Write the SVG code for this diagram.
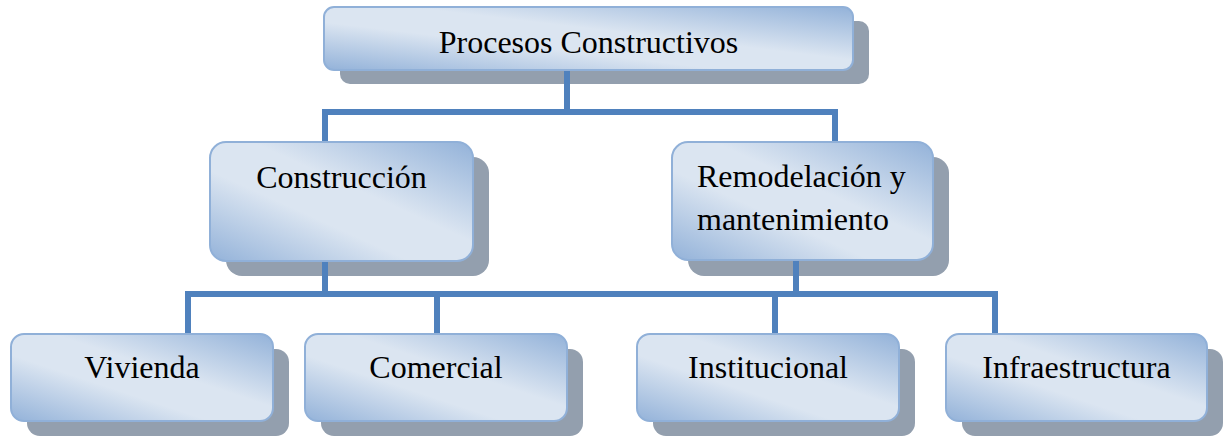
<svg xmlns="http://www.w3.org/2000/svg" width="1228" height="437" viewBox="0 0 1228 437">
<defs>
<linearGradient id="g" x1="1" y1="0" x2="0" y2="1">
<stop offset="0" stop-color="#93b2d9"/>
<stop offset="0.42" stop-color="#dbe5f1"/>
<stop offset="0.62" stop-color="#dbe5f1"/>
<stop offset="1" stop-color="#93b2d9"/>
</linearGradient>
</defs>
<style>
.sh{fill:#939fae}
.bx{fill:url(#g);stroke:#90b0d8;stroke-width:2}
.t{font-family:"Liberation Serif","Times New Roman",serif;font-size:32px;fill:#000}
.c{text-anchor:middle}
.ln{fill:none;stroke:#4f81bd;stroke-width:6}
</style>
<g id="procesos">
<rect class="sh" x="340" y="21" width="529" height="63" rx="10"/>
<rect class="bx" x="324" y="7" width="529" height="63" rx="10"/>
<text class="t c" x="588.5" y="53">Procesos Constructivos</text>
</g>
<g id="construccion">
<rect class="sh" x="226" y="157" width="263" height="119" rx="16"/>
<rect class="bx" x="210" y="142" width="263" height="119" rx="16"/>
<text class="t c" x="341.5" y="188">Construcción</text>
</g>
<g id="remodelacion">
<rect class="sh" x="688" y="157" width="261" height="119" rx="16"/>
<rect class="bx" x="672" y="142" width="261" height="118" rx="16"/>
<text class="t" x="697" y="187">Remodelación y</text>
<text class="t" x="697" y="230">mantenimiento</text>
</g>
<g id="vivienda">
<rect class="sh" x="27" y="349" width="262" height="87" rx="13"/>
<rect class="bx" x="11" y="334" width="262" height="87" rx="13"/>
<text class="t c" x="142" y="378">Vivienda</text>
</g>
<g id="comercial">
<rect class="sh" x="321" y="349" width="262" height="87" rx="13"/>
<rect class="bx" x="305" y="334" width="262" height="87" rx="13"/>
<text class="t c" x="436" y="378">Comercial</text>
</g>
<g id="institucional">
<rect class="sh" x="653" y="349" width="262" height="87" rx="13"/>
<rect class="bx" x="637" y="334" width="262" height="87" rx="13"/>
<text class="t c" x="768" y="378">Institucional</text>
</g>
<g id="infraestructura">
<rect class="sh" x="962" y="349" width="261" height="87" rx="13"/>
<rect class="bx" x="946" y="334" width="261" height="87" rx="13"/>
<text class="t c" x="1076.5" y="378">Infraestructura</text>
</g>
<g id="connectors">
<path class="ln" d="M567,71 V112"/>
<path class="ln" d="M325,141 V112 H835 V141"/>
<path class="ln" d="M325,262 V294"/>
<path class="ln" d="M796,261 V294"/>
<path class="ln" d="M188,333 V294 H995 V333"/>
<path class="ln" d="M437,294 V333"/>
<path class="ln" d="M775,294 V333"/>
</g>
</svg>
